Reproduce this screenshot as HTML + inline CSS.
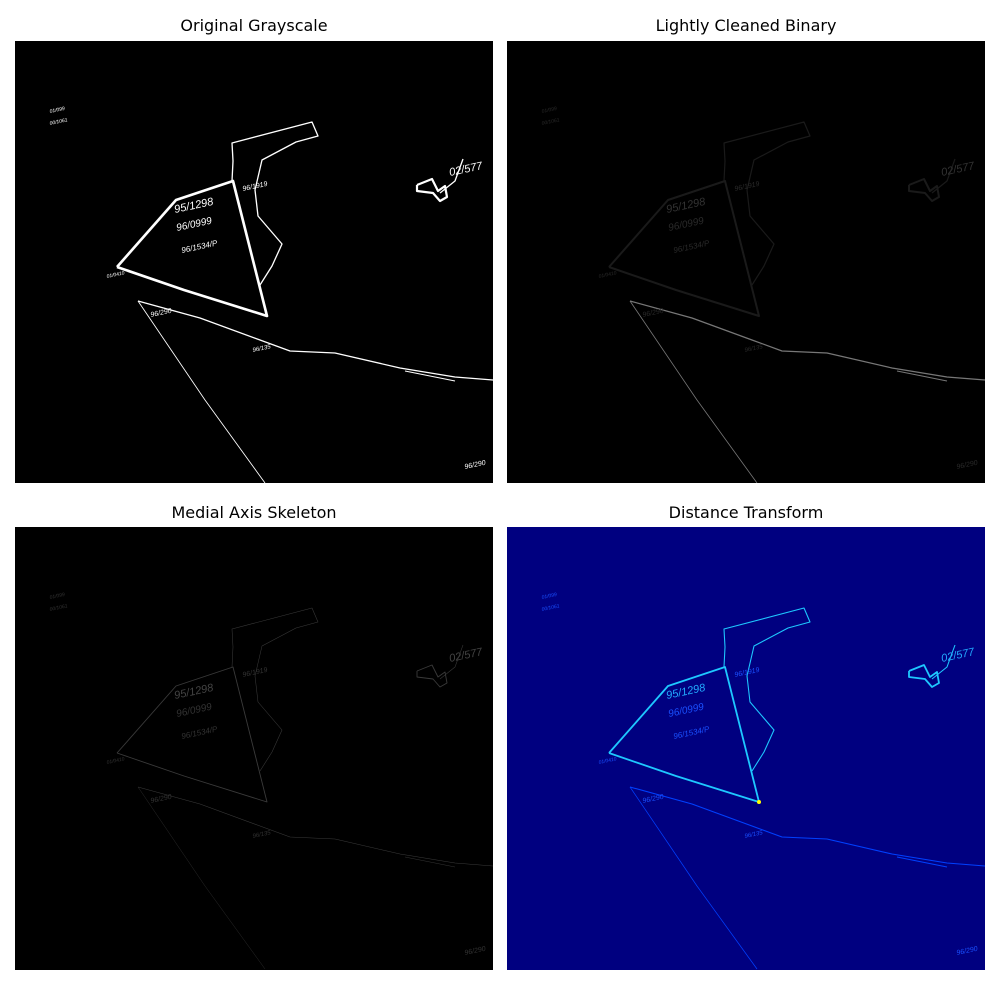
<!DOCTYPE html>
<html><head><meta charset="utf-8">
<style>
body{margin:0;background:#fff;width:1000px;height:1000px;position:relative;font-family:"DejaVu Sans","Liberation Sans",sans-serif;overflow:hidden}
.t{position:absolute;font-size:16px;color:#000;text-align:center;width:478px}
svg{position:absolute}
</style></head>
<body>
<div class="t" style="left:15px;top:16px">Original Grayscale</div>
<div class="t" style="left:507px;top:16px">Lightly Cleaned Binary</div>
<div class="t" style="left:15px;top:503px">Medial Axis Skeleton</div>
<div class="t" style="left:507px;top:503px">Distance Transform</div>
<svg id="p1" style="left:15px;top:41px" width="478" height="442"></svg>
<svg id="p2" style="left:507px;top:41px" width="478" height="442"></svg>
<svg id="p3" style="left:15px;top:527px" width="478" height="443"></svg>
<svg id="p4" style="left:507px;top:527px" width="478" height="443"></svg>
<script>
const triangle=[[102,226],[161,159],[218,140],[252,275],[169,249],[102,226]];
const upper=[[217,140],[218,120],[217,102],[297,81],[303,95],[281,101],[247,119],[240,149],[243,175],[267,203],[257,225],[245,244]];
const lower=[[123,260],[185,277],[245,299],[275,310],[320,312],[385,327],[440,336],[478,339]];
const lower2=[[390,330],[440,340]];
const diag=[[123,260],[190,359],[250,442]];
const zig=[[402,144],[417,138],[423,150],[430,145],[432,156],[425,160],[418,152],[402,150],[402,144]];
const stick=[[425,152],[440,140],[448,118]];
const labels=[["02/577",435,135,11,1],["95/1298",160,172,11,1],["96/0999",162,190,10,0],["96/1534/P",167,212,8,0],["96/290",136,276,7,0],["96/135",238,311,6,0],["96/290",450,428,7,0],["96/1919",228,150,7,0],["01/099",35,72,5,0],["00/1061",35,84,5,0],["01/0410",92,237,5,0]];
const styles=[
 {bg:"#000",c:"#fff",w:2.2,tc:"#fff",tc2:"#fff"},
 {bg:"#000",c:"#1a1a1a",w:2,tc:"#333",tc2:"#2a2a2a",lc:"#777"},
 {bg:"#000",c:"#3a3a3a",w:0.9,tc:"#444",tc2:"#333"},
 {bg:"#000080",c:"#1ec8ff",w:1.8,tc:"#2af",tc2:"#1a50ff",lc:"#0040ff"}
];
const NS="http://www.w3.org/2000/svg";
function pts(a){return a.map(p=>p.join(",")).join(" ");}
["p1","p2","p3","p4"].forEach((id,i)=>{
 const s=styles[i],svg=document.getElementById(id);
 const r=document.createElementNS(NS,"rect");
 
 
 r.setAttribute("width","100%");r.setAttribute("height","100%");r.setAttribute("fill",s.bg);svg.appendChild(r);
 const shapes=[["triangle-parcel",triangle,s.c,s.w*(i===0?1.2:1)],["upper-parcel",upper,s.c,s.w*0.6],["lower-boundary",lower,s.lc||s.c,s.w*0.6],["lower-boundary-double",lower2,s.lc||s.c,s.w*0.5],["diagonal-boundary",diag,s.lc||s.c,s.w*0.4],["zigzag-mark",zig,s.c,s.w],["zigzag-stick",stick,s.c,s.w*0.6]];
 shapes.forEach(sh=>{
  const pl=document.createElementNS(NS,"polyline");
  
  
  pl.setAttribute("points",pts(sh[1]));pl.setAttribute("fill","none");
  pl.setAttribute("stroke",sh[2]);pl.setAttribute("stroke-width",sh[3]);pl.setAttribute("stroke-linejoin","round");
  svg.appendChild(pl);
 });
 if(i===3){
  const y=document.createElementNS(NS,"circle");
  
  
  y.setAttribute("cx",252);y.setAttribute("cy",275);y.setAttribute("r",2);y.setAttribute("fill","#ff0");svg.appendChild(y);
 }
 labels.forEach(l=>{
  const t=document.createElementNS(NS,"text");
  
  
  t.setAttribute("x",l[1]);t.setAttribute("y",l[2]);t.setAttribute("font-size",l[3]);
  t.setAttribute("fill",l[4]?s.tc:s.tc2);t.setAttribute("font-family","Liberation Sans, sans-serif");
  t.setAttribute("font-style","italic");
  t.setAttribute("transform","rotate(-12 "+l[1]+" "+l[2]+")");
  t.textContent=l[0];svg.appendChild(t);
 });
});
</script>
</body></html>
